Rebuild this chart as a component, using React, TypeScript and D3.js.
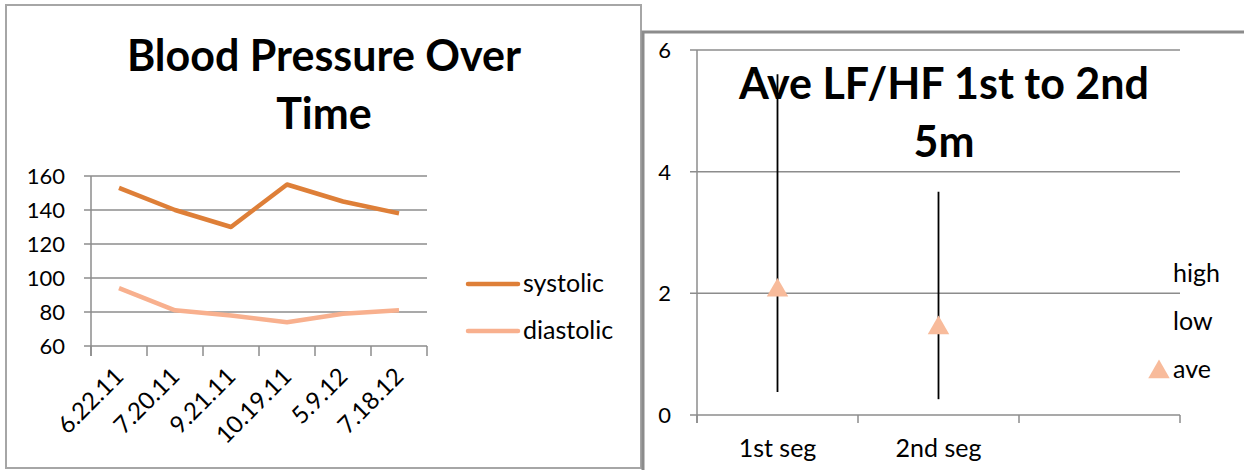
import React, { useEffect, useRef } from 'react'
import * as d3 from 'd3'

// Blood pressure chart data
const bpDates = ['6.22.11', '7.20.11', '9.21.11', '10.19.11', '5.9.12', '7.18.12']
const systolic = [153, 140, 130, 155, 145, 138]
const diastolic = [94, 81, 78, 74, 79, 81]
const bpTicks = [60, 80, 100, 120, 140, 160]

// LF/HF high-low chart data
const segments = ['1st seg', '2nd seg', '']
const lfhfHigh = [5.6, 3.67]
const lfhfLow = [0.38, 0.26]
const lfhfAve = [2.05, 1.43]
const lfhfTicks = [0, 2, 4, 6]

const FONT = 'Lato, "Open Sans", sans-serif'
const GRID = '#8c8c8c'
const NUM_SIZE = 22
const WORD_SIZE = 25
const TITLE_SIZE = 43

const App: React.FC = () => {
  const ref = useRef<SVGSVGElement | null>(null)

  useEffect(() => {
    const svg = d3.select(ref.current)
    svg.selectAll('*').remove()

    // ---------- frames ----------
    svg.append('rect')
      .attr('x', 6).attr('y', 5).attr('width', 635).attr('height', 463)
      .attr('fill', 'white').attr('stroke', '#a6a6a6').attr('stroke-width', 2)
    svg.append('path')
      .attr('d', 'M643,470V32H1244')
      .attr('fill', 'none').attr('stroke', '#8c8c8c').attr('stroke-width', 3)

    // ---------- left chart ----------
    const left = svg.append('g')
    const x1 = d3.scaleBand().domain(bpDates).range([91, 427])
    const y1 = d3.scaleLinear().domain([60, 160]).range([346, 176])

    left.selectAll('.grid').data(bpTicks).enter().append('line')
      .attr('x1', 84).attr('x2', 427)
      .attr('y1', (d) => y1(d)).attr('y2', (d) => y1(d))
      .attr('stroke', GRID).attr('stroke-width', 1.5)
    left.append('line')
      .attr('x1', 91).attr('x2', 91).attr('y1', y1(160)).attr('y2', 356)
      .attr('stroke', GRID).attr('stroke-width', 1.5)
    const xTicks1 = [...bpDates.map((d) => x1(d) as number), 427]
    left.selectAll('.xtick').data(xTicks1).enter().append('line')
      .attr('x1', (d) => d).attr('x2', (d) => d).attr('y1', 346).attr('y2', 356)
      .attr('stroke', GRID).attr('stroke-width', 1.5)

    left.selectAll('.ylab').data(bpTicks).enter().append('text')
      .attr('x', 65).attr('y', (d) => y1(d)).attr('dy', '0.36em')
      .attr('text-anchor', 'end').attr('font-family', FONT).attr('font-size', NUM_SIZE)
      .text((d) => d)

    left.selectAll('.xlab').data(bpDates).enter().append('text')
      .attr('transform', (d) => `translate(${(x1(d) as number) + x1.bandwidth() / 2 + 6},378) rotate(-45)`)
      .attr('text-anchor', 'end').attr('font-family', FONT).attr('font-size', 24)
      .text((d) => d)

    const line1 = d3.line<number>()
      .x((_, i) => (x1(bpDates[i]) as number) + x1.bandwidth() / 2)
      .y((d) => y1(d))
    left.append('path').attr('d', line1(systolic))
      .attr('fill', 'none').attr('stroke', '#de7f38').attr('stroke-width', 4.5)
      .attr('stroke-linejoin', 'round')
    left.append('path').attr('d', line1(diastolic))
      .attr('fill', 'none').attr('stroke', '#f8b08e').attr('stroke-width', 4.5)
      .attr('stroke-linejoin', 'round')

    const legend1 = [
      { name: 'systolic', color: '#de7f38', y: 284 },
      { name: 'diastolic', color: '#f8b08e', y: 331 },
    ]
    legend1.forEach((l) => {
      left.append('line').attr('x1', 468).attr('x2', 518).attr('y1', l.y).attr('y2', l.y)
        .attr('stroke', l.color).attr('stroke-width', 4.5).attr('stroke-linecap', 'round')
      left.append('text').attr('x', 523).attr('y', l.y + 8)
        .attr('font-family', FONT).attr('font-size', WORD_SIZE).text(l.name)
    })

    left.append('text').attr('x', 324).attr('y', 71)
      .attr('text-anchor', 'middle').attr('font-family', FONT).attr('font-weight', 'bold')
      .attr('font-size', TITLE_SIZE).text('Blood Pressure Over')
    left.append('text').attr('x', 324).attr('y', 129)
      .attr('text-anchor', 'middle').attr('font-family', FONT).attr('font-weight', 'bold')
      .attr('font-size', TITLE_SIZE).text('Time')

    // ---------- right chart ----------
    const right = svg.append('g')
    const x2 = d3.scaleBand().domain(segments).range([697, 1180])
    const y2 = d3.scaleLinear().domain([0, 6]).range([415, 50])

    right.selectAll('.grid').data(lfhfTicks).enter().append('line')
      .attr('x1', 690).attr('x2', 1180)
      .attr('y1', (d) => y2(d)).attr('y2', (d) => y2(d))
      .attr('stroke', GRID).attr('stroke-width', 1.5)
    right.append('line')
      .attr('x1', 697).attr('x2', 697).attr('y1', y2(6)).attr('y2', 423)
      .attr('stroke', GRID).attr('stroke-width', 1.5)
    const xTicks2 = [...segments.map((d) => x2(d) as number), 1180]
    right.selectAll('.xtick').data(xTicks2).enter().append('line')
      .attr('x1', (d) => d).attr('x2', (d) => d).attr('y1', 415).attr('y2', 423)
      .attr('stroke', GRID).attr('stroke-width', 1.5)

    right.selectAll('.ylab').data(lfhfTicks).enter().append('text')
      .attr('x', 671).attr('y', (d) => y2(d)).attr('dy', '0.36em')
      .attr('text-anchor', 'end').attr('font-family', FONT).attr('font-size', NUM_SIZE)
      .text((d) => d)
    right.selectAll('.xlab').data(segments).enter().append('text')
      .attr('x', (d) => (x2(d) as number) + x2.bandwidth() / 2).attr('y', 457)
      .attr('text-anchor', 'middle').attr('font-family', FONT).attr('font-size', WORD_SIZE)
      .text((d) => d)

    const cx = (i: number) => (x2(segments[i]) as number) + x2.bandwidth() / 2
    right.selectAll('.hl').data(lfhfHigh).enter().append('line')
      .attr('x1', (_, i) => cx(i)).attr('x2', (_, i) => cx(i))
      .attr('y1', (d) => y2(d)).attr('y2', (_, i) => y2(lfhfLow[i]))
      .attr('stroke', 'black').attr('stroke-width', 1.8)

    const tri = d3.symbol().type(d3.symbolTriangle).size(200)
    right.selectAll('.ave').data(lfhfAve).enter().append('path')
      .attr('d', tri())
      .attr('transform', (d, i) => `translate(${cx(i)},${y2(d)})`)
      .attr('fill', '#f8bb9b')

    right.append('text').attr('x', 1173).attr('y', 282)
      .attr('font-family', FONT).attr('font-size', WORD_SIZE).text('high')
    right.append('text').attr('x', 1173).attr('y', 330)
      .attr('font-family', FONT).attr('font-size', WORD_SIZE).text('low')
    right.append('path').attr('d', tri())
      .attr('transform', 'translate(1159,372)').attr('fill', '#f8bb9b')
    right.append('text').attr('x', 1173).attr('y', 378)
      .attr('font-family', FONT).attr('font-size', WORD_SIZE).text('ave')

    right.append('text').attr('x', 944).attr('y', 99)
      .attr('text-anchor', 'middle').attr('font-family', FONT).attr('font-weight', 'bold')
      .attr('font-size', TITLE_SIZE).text('Ave LF/HF 1st to 2nd')
    right.append('text').attr('x', 944).attr('y', 157)
      .attr('text-anchor', 'middle').attr('font-family', FONT).attr('font-weight', 'bold')
      .attr('font-size', TITLE_SIZE).text('5m')
  }, [])

  return (
    <svg
      ref={ref}
      width={1244}
      height={470}
      style={{ position: 'absolute', left: 0, top: 0, background: 'white' }}
    />
  )
}

export default App
